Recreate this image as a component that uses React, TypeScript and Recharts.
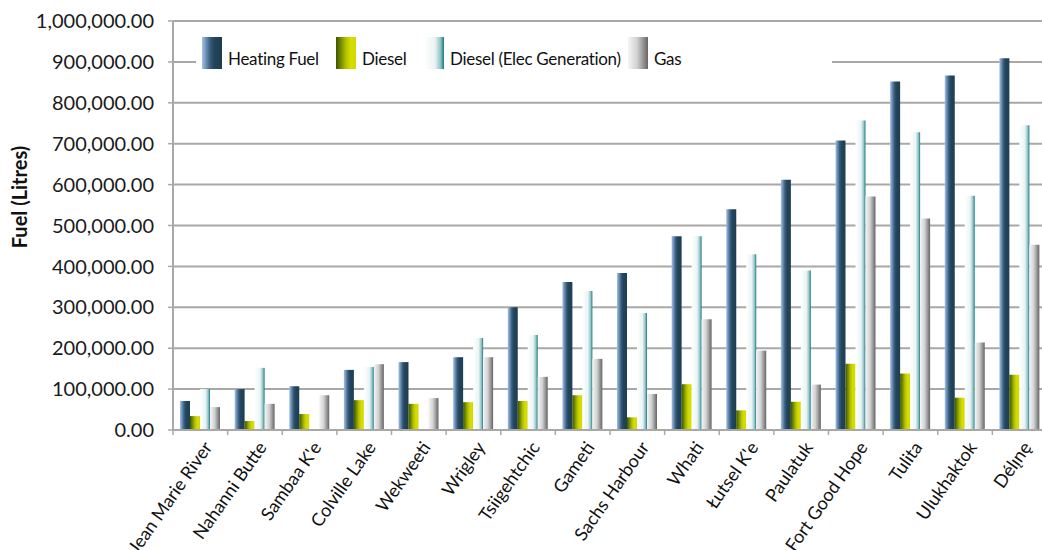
import { BarChart, Bar, XAxis, YAxis, CartesianGrid, Legend } from "recharts";

const cities = [
  "Jean Marie River",
  "Nahanni Butte",
  "Sambaa K'e",
  "Colville Lake",
  "Wekweeti",
  "Wrigley",
  "Tsiigehtchic",
  "Gameti",
  "Sachs Harbour",
  "Whati",
  "Łutsel K'e",
  "Paulatuk",
  "Fort Good Hope",
  "Tulita",
  "Ulukhaktok",
  "Délı̨nę",
];

// litres per community
const heatingFuel = [71000, 100000, 107000, 147000, 166000, 178000, 300000, 362000, 384000, 474000, 540000, 612000, 708000, 852000, 867000, 909000];
const diesel = [34000, 22000, 39000, 73000, 64000, 68000, 71000, 85000, 31000, 112000, 48000, 69000, 162000, 138000, 79000, 135000];
const dieselElec = [100000, 152000, 0, 154000, 0, 225000, 232000, 340000, 286000, 474000, 430000, 390000, 757000, 728000, 573000, 745000];
const gas = [56000, 64000, 85000, 161000, 78000, 178000, 130000, 174000, 88000, 271000, 194000, 111000, 571000, 517000, 214000, 453000];

const yTicks = [0, 100000, 200000, 300000, 400000, 500000, 600000, 700000, 800000, 900000, 1000000];

const data = cities.map((city, i) => ({
  city,
  heating: heatingFuel[i],
  diesel: diesel[i],
  elec: dieselElec[i],
  gas: gas[i],
}));

const series = [
  { key: "heating", name: "Heating Fuel", width: 134, stops: [[0, "#a3c2e8"], [0.4, "#3a5e80"], [0.6, "#23465c"], [1, "#1d3d51"]] },
  { key: "diesel", name: "Diesel", width: 88, stops: [[0, "#3a5600"], [0.5, "#b4c200"], [0.75, "#d6de00"], [1, "#d0d800"]] },
  { key: "elec", name: "Diesel (Elec Generation)", width: 204, stops: [[0, "#ffffff"], [0.55, "#eaf4f4"], [0.82, "#93c4c7"], [1, "#187a82"]] },
  { key: "gas", name: "Gas", width: 60, stops: [[0, "#f5f5f5"], [0.45, "#d2d2d2"], [1, "#666666"]] },
];

const FONT = "Lato, 'Noto Sans', sans-serif";
const AXIS_GREY = "#a9a8a4";
const X_TICK_SIZE = 5;
const X_TICK_MARGIN = 3;

const fmt = (v: number) =>
  v.toLocaleString("en-US", { minimumFractionDigits: 2, maximumFractionDigits: 2 });

const cssGradient = (stops: (string | number)[][]) =>
  `linear-gradient(to right, ${stops.map(([o, c]) => `${c} ${(o as number) * 100}%`).join(", ")})`;

// rotated community name, plus tick marks on the category boundaries
const CityTick = (props: any) => {
  const { x, y, payload, index } = props;
  const half = payload.offset ?? 0;
  const axisY = y - X_TICK_SIZE - X_TICK_MARGIN;
  const edges = [x - half];
  if (index === cities.length - 1) edges.push(x + half);
  return (
    <g>
      {edges.map((ex) => (
        <line
          key={ex}
          x1={ex}
          x2={ex}
          y1={axisY}
          y2={axisY + X_TICK_SIZE}
          stroke={AXIS_GREY}
          strokeWidth={1.5}
        />
      ))}
      <g transform={`translate(${x + 2},${y + 2})`}>
        <text
          textAnchor="end"
          transform="rotate(-55)"
          dy="0.72em"
          fontSize={18}
          fontFamily={FONT}
          fill="#111"
        >
          {payload.value}
        </text>
      </g>
    </g>
  );
};

const LegendBox = () => (
  <div
    style={{
      display: "flex",
      alignItems: "center",
      height: 46,
      paddingLeft: 6,
      background: "#fff",
      fontFamily: FONT,
      fontSize: 17,
      letterSpacing: -0.3,
      color: "#111",
      whiteSpace: "nowrap",
    }}
  >
    {series.map((s) => (
      <div
        key={s.key}
        style={{ display: "flex", alignItems: "flex-end", width: s.width, flexShrink: 0 }}
      >
        <span
          style={{
            display: "inline-block",
            width: 20,
            height: 32,
            background: cssGradient(s.stops),
            marginRight: 6,
            flexShrink: 0,
          }}
        />
        <span style={{ lineHeight: "21px" }}>{s.name}</span>
      </div>
    ))}
  </div>
);

export default function App() {
  return (
    <div
      style={{
        position: "absolute",
        left: 0,
        top: 0,
        width: 1042,
        height: 550,
        overflow: "hidden",
        background: "#fff",
      }}
    >
      <BarChart
        width={1047}
        height={550}
        data={data}
        margin={{ top: 21, right: 0, left: 8, bottom: 0 }}
        barCategoryGap={7}
        barGap={0}
      >
        <defs>
          {series.map((s) => (
            <linearGradient key={s.key} id={`grad-${s.key}`} x1="0" y1="0" x2="1" y2="0">
              {s.stops.map(([o, c]) => (
                <stop key={String(o)} offset={o as number} stopColor={c as string} />
              ))}
            </linearGradient>
          ))}
        </defs>
        <CartesianGrid vertical={false} stroke={AXIS_GREY} strokeWidth={2} />
        <XAxis
          dataKey="city"
          interval={0}
          axisLine={{ stroke: AXIS_GREY, strokeWidth: 2 }}
          tickLine={false}
          tickSize={X_TICK_SIZE}
          tickMargin={X_TICK_MARGIN}
          tick={<CityTick />}
          height={120}
        />
        <YAxis
          width={165}
          domain={[0, 1000000]}
          ticks={yTicks}
          tickFormatter={fmt}
          axisLine={{ stroke: AXIS_GREY, strokeWidth: 2 }}
          tickLine={{ stroke: AXIS_GREY, strokeWidth: 1.5 }}
          tickSize={5}
          tickMargin={14}
          tick={{ fontSize: 20, fontFamily: FONT, fill: "#1a1a1a" }}
          label={{
            content: () => (
              <text
                transform="translate(19,197) rotate(-90)"
                textAnchor="middle"
                fontSize={20}
                fontWeight="bold"
                fontFamily={FONT}
                fill="#111"
                dominantBaseline="central"
              >
                Fuel (Litres)
              </text>
            ),
          }}
        />
        <Legend
          layout="vertical"
          align="center"
          verticalAlign="middle"
          content={<LegendBox />}
          wrapperStyle={{ top: 30, left: 196, width: 636, height: 46 }}
        />
        {series.map((s) => (
          <Bar
            key={s.key}
            dataKey={s.key}
            name={s.name}
            fill={`url(#grad-${s.key})`}
            isAnimationActive={false}
          />
        ))}
      </BarChart>
    </div>
  );
}
